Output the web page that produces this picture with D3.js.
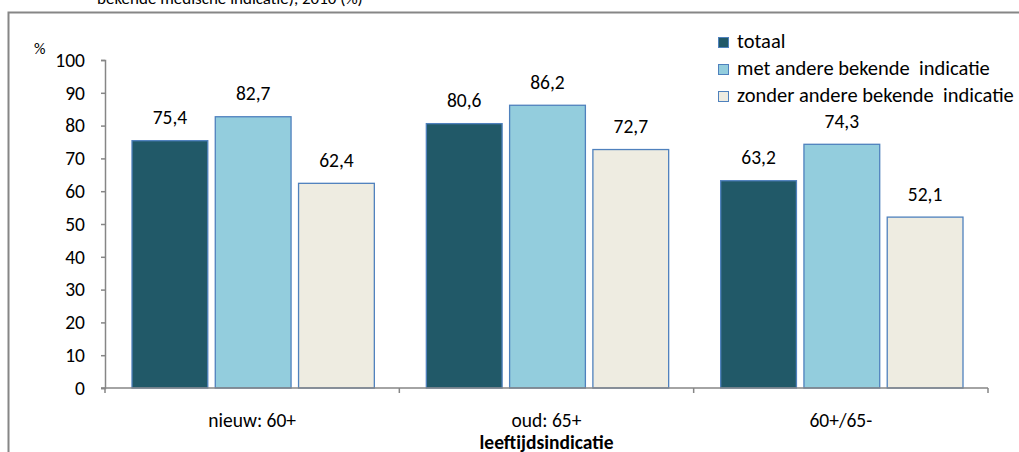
<!DOCTYPE html>
<html>
<head>
<meta charset="utf-8">
<script src="https://cdn.jsdelivr.net/npm/d3@7"></script>
<style>
  html, body { margin: 0; padding: 0; background: #fff; }
  svg { display: block; }
  text { font-family: Carlito, Calibri, "Liberation Sans Narrow", "Open Sans", sans-serif; fill: #000; }
</style>
</head>
<body>
<svg id="chart" width="1019" height="452"></svg>
<script>
// Age-indication groups and the three series
const categories = ["nieuw: 60+", "oud: 65+", "60+/65-"];
const seriesNames = ["totaal", "met andere bekende  indicatie", "zonder andere bekende  indicatie"];
const totaal = [75.4, 80.6, 63.2];
const metIndicatie = [82.7, 86.2, 74.3];
const zonderIndicatie = [62.4, 72.7, 52.1];
const yTicks = [0, 10, 20, 30, 40, 50, 60, 70, 80, 90, 100];
const seriesColors = ["#215968", "#93CDDD", "#EEECE1"];

const seriesValues = [totaal, metIndicatie, zonderIndicatie];
const rows = categories.map((c, i) => ({
  cat: c,
  vals: seriesNames.map((s, j) => ({ s, j, v: seriesValues[j][i] }))
}));

const svg = d3.select("#chart");
const axisColor = "#868686";
const fontSize = 19.5;

// Title line (continues above the visible area)
svg.append("text")
  .attr("x", 97).attr("y", 4)
  .style("font-size", "17px")
  .text("bekende medische indicatie), 2010 (%)");

// Chart frame
svg.append("rect")
  .attr("x", 8.5).attr("y", 12.5)
  .attr("width", 1100).attr("height", 600)
  .attr("fill", "none")
  .attr("stroke", axisColor)
  .attr("stroke-width", 2);

const x0 = 105, x1 = 988, yBase = 388, yTop = 60;

const x = d3.scaleBand().domain(categories).range([x0, x1]);
const y = d3.scaleLinear().domain([0, 100]).range([yBase, yTop]);
const xs = d3.scaleBand().domain(seriesNames)
  .range([27, x.bandwidth() - 25]).paddingInner(0.09);

// Bars
const groups = svg.append("g").selectAll("g").data(rows).join("g")
  .attr("transform", d => `translate(${x(d.cat)},0)`);

groups.selectAll("rect").data(d => d.vals).join("rect")
  .attr("x", d => xs(d.s))
  .attr("y", d => y(d.v))
  .attr("width", xs.bandwidth())
  .attr("height", d => y(0) - y(d.v))
  .attr("fill", d => seriesColors[d.j])
  .attr("stroke", "#4F81BD")
  .attr("stroke-width", 1.3);

// Value labels
groups.selectAll("text.val").data(d => d.vals).join("text")
  .attr("class", "val")
  .attr("x", d => xs(d.s) + xs.bandwidth() / 2)
  .attr("y", d => y(d.v) - 16.5)
  .attr("text-anchor", "middle")
  .style("font-size", fontSize + "px")
  .text(d => d3.format(".1f")(d.v).replace(".", ","));

// Y axis
const yAxis = svg.append("g")
  .attr("transform", `translate(${x0},0)`)
  .call(d3.axisLeft(y).tickValues(yTicks).tickSize(4).tickPadding(16).tickFormat(d3.format("d")));
yAxis.select(".domain").attr("stroke", axisColor).attr("stroke-width", 1.5);
yAxis.selectAll(".tick line").attr("stroke", axisColor).attr("stroke-width", 1.5);
yAxis.selectAll(".tick text")
  .style("font-size", fontSize + "px")
  .style("font-family", null)
  .attr("fill", "#000");

// X axis: line with ticks between categories
const xAxis = svg.append("g")
  .attr("transform", `translate(0,${yBase})`)
  .call(d3.axisBottom(x).tickSize(0).tickPadding(25));
xAxis.select(".domain").attr("stroke", axisColor).attr("stroke-width", 1.5)
  .attr("d", `M${x0 - 4},0H${x1}`);
xAxis.selectAll(".tick text")
  .style("font-size", fontSize + "px")
  .style("font-family", null)
  .attr("fill", "#000");

const bounds = categories.map(c => x(c)).concat([x1]);
svg.append("g").selectAll("line").data(bounds).join("line")
  .attr("x1", d => d).attr("x2", d => d)
  .attr("y1", yBase).attr("y2", yBase + 5)
  .attr("stroke", axisColor).attr("stroke-width", 1.5);

// Axis titles
svg.append("text")
  .attr("x", 34).attr("y", 54)
  .style("font-size", "16px")
  .text("%");

svg.append("text")
  .attr("x", (x0 + x1) / 2).attr("y", 449)
  .attr("text-anchor", "middle")
  .style("font-size", fontSize + "px")
  .style("font-weight", "bold")
  .text("leeftijdsindicatie");

// Legend
const legend = svg.append("g").selectAll("g").data(seriesNames).join("g")
  .attr("transform", (d, i) => `translate(718,${42 + i * 27})`);
legend.append("rect")
  .attr("x", 0.5).attr("y", -4.5)
  .attr("width", 10).attr("height", 10)
  .attr("fill", (d, i) => seriesColors[i])
  .attr("stroke", "#4F81BD").attr("stroke-width", 1);
legend.append("text")
  .attr("x", 19).attr("y", 6)
  .style("font-size", "20.5px")
  .style("white-space", "pre")
  .text(d => d);
</script>
</body>
</html>
